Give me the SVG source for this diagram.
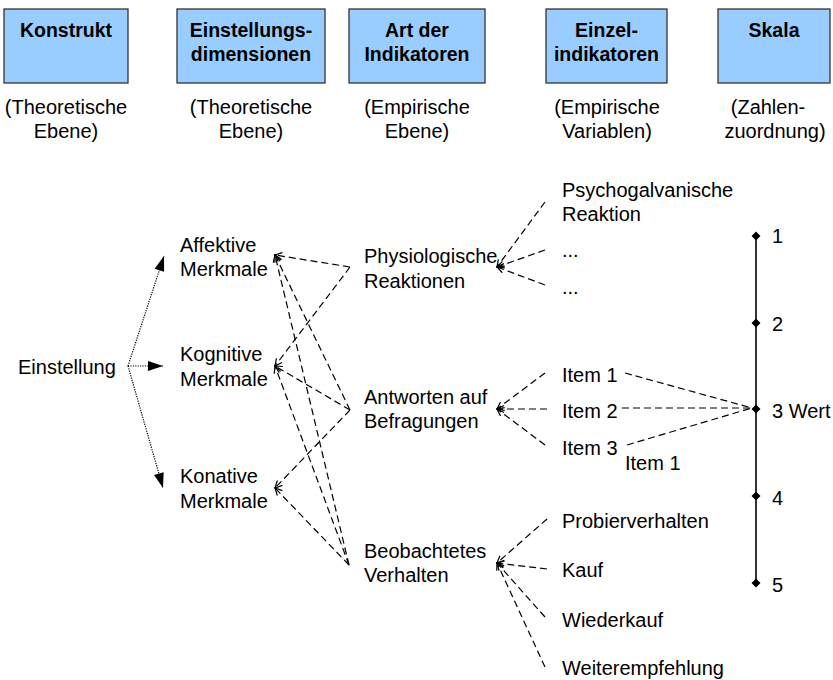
<svg xmlns="http://www.w3.org/2000/svg" width="833" height="680" viewBox="0 0 833 680">
<style>
text{font-family:"Liberation Sans",Arial,sans-serif;font-size:20px;fill:#000}
.h{font-weight:bold;text-anchor:middle;font-size:19.5px}
.c{text-anchor:middle}
.box{fill:#99CCFF;stroke:#333;stroke-width:1.3}
.d{fill:none;stroke:#000;stroke-width:1.2;stroke-dasharray:7,4}
.dot{fill:none;stroke:#000;stroke-width:1.2;stroke-dasharray:1.2,1.2}
</style>
<defs>
<marker id="oa" markerUnits="userSpaceOnUse" markerWidth="12" markerHeight="12" viewBox="-10 -6 12 12" refX="0" refY="0" orient="auto">
<path d="M-7,-3.5 L0,0 L-7,3.5" fill="none" stroke="#000" stroke-width="1.2" stroke-dasharray="none"/>
</marker>
<marker id="fa" markerUnits="userSpaceOnUse" markerWidth="18" markerHeight="14" viewBox="-16 -7 18 14" refX="0" refY="0" orient="auto">
<path d="M-15,-5 L0,0 L-15,5 Z" fill="#000" stroke="none"/>
</marker>
</defs>

<g id="header-konstrukt"><rect class="box" x="4" y="9" width="124" height="74"/><text class="h" x="66" y="37">Konstrukt</text></g>
<g id="header-einstellungsdimensionen"><rect class="box" x="177" y="9" width="148" height="74"/><text class="h" x="251" y="37">Einstellungs-</text><text class="h" x="251" y="61">dimensionen</text></g>
<g id="header-art"><rect class="box" x="349" y="9" width="136" height="74"/><text class="h" x="417" y="37">Art der</text><text class="h" x="417" y="61">Indikatoren</text></g>
<g id="header-einzel"><rect class="box" x="546" y="9" width="121" height="74"/><text class="h" x="606.5" y="37">Einzel-</text><text class="h" x="606.5" y="61">indikatoren</text></g>
<g id="header-skala"><rect class="box" x="718" y="9" width="112" height="74"/><text class="h" x="774" y="37">Skala</text></g>

<g id="sub-1"><text class="c" x="66" y="114">(Theoretische</text><text class="c" x="66" y="138">Ebene)</text></g>
<g id="sub-2"><text class="c" x="251" y="114">(Theoretische</text><text class="c" x="251" y="138">Ebene)</text></g>
<g id="sub-3"><text class="c" x="417" y="114">(Empirische</text><text class="c" x="417" y="138">Ebene)</text></g>
<g id="sub-4"><text class="c" x="607" y="114">(Empirische</text><text class="c" x="607" y="138">Variablen)</text></g>
<g id="sub-5"><text class="c" x="768" y="114">(Zahlen-</text><text class="c" x="775" y="138">zuordnung)</text></g>

<g id="connectors">
<line class="dot" x1="128" y1="366" x2="164" y2="256" marker-end="url(#fa)"/>
<line class="dot" x1="128" y1="366" x2="163" y2="366" marker-end="url(#fa)"/>
<line class="dot" x1="128" y1="366" x2="163" y2="488" marker-end="url(#fa)"/>

<line class="d" x1="350" y1="267" x2="275" y2="255" marker-end="url(#oa)"/>
<line class="d" x1="350" y1="410" x2="275" y2="255" marker-end="url(#oa)"/>
<line class="d" x1="349" y1="565" x2="275" y2="255" marker-end="url(#oa)"/>
<line class="d" x1="350" y1="267" x2="275" y2="366" marker-end="url(#oa)"/>
<line class="d" x1="350" y1="410" x2="275" y2="366" marker-end="url(#oa)"/>
<line class="d" x1="349" y1="565" x2="275" y2="366" marker-end="url(#oa)"/>
<line class="d" x1="350" y1="410" x2="275" y2="488" marker-end="url(#oa)"/>
<line class="d" x1="349" y1="565" x2="275" y2="488" marker-end="url(#oa)"/>

<line class="d" x1="545" y1="202" x2="497" y2="267" marker-end="url(#oa)"/>
<line class="d" x1="545" y1="250" x2="497" y2="267" marker-end="url(#oa)"/>
<line class="d" x1="545" y1="285" x2="497" y2="267" marker-end="url(#oa)"/>

<line class="d" x1="545" y1="373" x2="497" y2="409" marker-end="url(#oa)"/>
<line class="d" x1="547" y1="409" x2="497" y2="409" marker-end="url(#oa)"/>
<line class="d" x1="545" y1="445" x2="497" y2="409" marker-end="url(#oa)"/>

<line class="d" x1="547" y1="519" x2="497" y2="563" marker-end="url(#oa)"/>
<line class="d" x1="547" y1="569" x2="497" y2="563" marker-end="url(#oa)"/>
<line class="d" x1="545" y1="617" x2="497" y2="563" marker-end="url(#oa)"/>
<line class="d" x1="545" y1="667" x2="497" y2="563" marker-end="url(#oa)"/>

<line class="d" x1="625" y1="373" x2="752" y2="408"/>
<line class="d" x1="622" y1="408" x2="752" y2="408"/>
<line class="d" x1="627" y1="445" x2="752" y2="408"/>
</g>

<g id="einstellung"><text x="18" y="374">Einstellung</text></g>
<g id="affektive"><text x="180" y="252">Affektive</text><text x="180" y="276">Merkmale</text></g>
<g id="kognitive"><text x="180" y="361">Kognitive</text><text x="180" y="386">Merkmale</text></g>
<g id="konative"><text x="180" y="483">Konative</text><text x="180" y="508">Merkmale</text></g>

<g id="physiologische"><text x="364" y="263">Physiologische</text><text x="364" y="288">Reaktionen</text></g>
<g id="antworten"><text x="364" y="404">Antworten auf</text><text x="364" y="428">Befragungen</text></g>
<g id="beobachtetes"><text x="364" y="558">Beobachtetes</text><text x="364" y="582">Verhalten</text></g>

<g id="psychogalvanische"><text x="562" y="197">Psychogalvanische</text><text x="562" y="221">Reaktion</text></g>
<g id="dots-1"><text x="562" y="257">...</text></g>
<g id="dots-2"><text x="562" y="294">...</text></g>
<g id="item-1"><text x="562" y="382">Item 1</text></g>
<g id="item-2"><text x="562" y="418">Item 2</text></g>
<g id="item-3"><text x="562" y="455">Item 3</text></g>
<g id="item-1b"><text x="625" y="470">Item 1</text></g>
<g id="probierverhalten"><text x="562" y="528">Probierverhalten</text></g>
<g id="kauf"><text x="562" y="577">Kauf</text></g>
<g id="wiederkauf"><text x="562" y="627">Wiederkauf</text></g>
<g id="weiterempfehlung"><text x="562" y="675">Weiterempfehlung</text></g>

<g id="skala">
<line x1="756" y1="236" x2="756" y2="583" stroke="#000" stroke-width="1.6"/>
<path d="M756,231.5 L760.5,236 L756,240.5 L751.5,236 Z M756,318.5 L760.5,323 L756,327.5 L751.5,323 Z M756,404.5 L760.5,409 L756,413.5 L751.5,409 Z M756,491.5 L760.5,496 L756,500.5 L751.5,496 Z M756,578.5 L760.5,583 L756,587.5 L751.5,583 Z" fill="#000"/>
<text x="772" y="243">1</text>
<text x="772" y="331">2</text>
<text x="772" y="418">3 Wert</text>
<text x="772" y="505">4</text>
<text x="772" y="592">5</text>
</g>
</svg>
